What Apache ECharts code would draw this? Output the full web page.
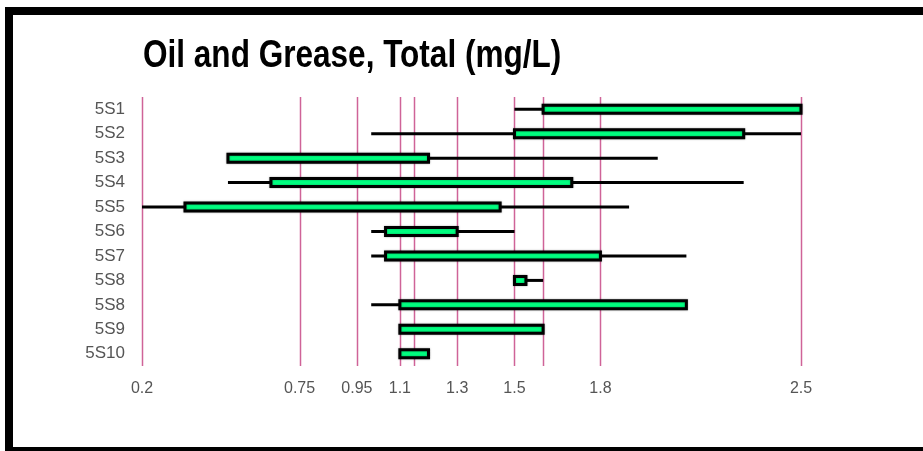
<!DOCTYPE html>
<html>
<head>
<meta charset="utf-8">
<title>Oil and Grease, Total (mg/L)</title>
<script src="https://cdn.jsdelivr.net/npm/echarts@6/dist/echarts.min.js"></script>
<style>
  html, body { margin: 0; padding: 0; background: #fff; }
  #chart { width: 923px; height: 451px; }
</style>
</head>
<body>
<div id="chart"></div>
<script>
// Sampling stations, top to bottom
const categories = ['5S1', '5S2', '5S3', '5S4', '5S5', '5S6', '5S7', '5S8', '5S8', '5S9', '5S10'];
// Range of each station: whisker from min to max, box from low to high
const minVals  = [1.5, 1.0, 0.5, 0.5,  0.2,  1.0,  1.0,  1.5,  1.0, 1.1, 1.1];
const lowVals  = [1.6, 1.5, 0.5, 0.65, 0.35, 1.05, 1.05, 1.5,  1.1, 1.1, 1.1];
const highVals = [2.5, 2.3, 1.2, 1.7,  1.45, 1.3,  1.8,  1.54, 2.1, 1.6, 1.2];
const maxVals  = [2.5, 2.5, 2.0, 2.3,  1.9,  1.5,  2.1,  1.6,  2.1, 1.6, 1.2];
// Reference lines and labelled ticks on the concentration axis
const gridValues = [0.2, 0.75, 0.95, 1.1, 1.15, 1.3, 1.5, 1.6, 1.8, 2.5];
const xTickLabels = [0.2, 0.75, 0.95, 1.1, 1.3, 1.5, 1.8, 2.5];

const SANS = "'Liberation Sans', Arial, sans-serif";

const rangeData = categories.map((c, i) => [i, minVals[i], lowVals[i], highVals[i], maxVals[i]]);
const lineData = gridValues.map(v => [v, 0]);

function renderRange(params, api) {
  const row = api.value(0);
  const pMin = api.coord([api.value(1), row]);
  const pLow = api.coord([api.value(2), row]);
  const pHigh = api.coord([api.value(3), row]);
  const pMax = api.coord([api.value(4), row]);
  const h = 8;
  return {
    type: 'group',
    children: [
      {
        type: 'line',
        shape: { x1: pMin[0], y1: pMin[1], x2: pMax[0], y2: pMax[1] },
        style: { stroke: '#000', lineWidth: 3 }
      },
      {
        type: 'rect',
        shape: { x: pLow[0], y: pLow[1] - h / 2, width: pHigh[0] - pLow[0], height: h },
        style: {
          fill: '#00ff80', stroke: '#000', lineWidth: 3,
          shadowColor: 'rgba(0,0,0,0.35)', shadowBlur: 2
        }
      }
    ]
  };
}

function renderGridLine(params, api) {
  const cs = params.coordSys;
  const x = Math.round(api.coord([api.value(0), 0])[0]) + 0.5;
  return {
    type: 'line',
    shape: { x1: x, y1: cs.y, x2: x, y2: cs.y + cs.height },
    style: { stroke: '#cf6398', lineWidth: 1.5 }
  };
}

const chart = echarts.init(document.getElementById('chart'), null, { renderer: 'canvas' });
chart.setOption({
  backgroundColor: '#fff',
  animation: false,
  graphic: [
    {
      // condensed heading: regular face squeezed horizontally
      type: 'text',
      x: 143,
      y: 38,
      scaleX: 0.83,
      style: {
        text: 'Oil and Grease, Total (mg/L)',
        font: "bold 38px 'Liberation Sans', Arial, sans-serif",
        fill: '#000',
        verticalAlign: 'top',
        align: 'left'
      }
    },
    {
      type: 'rect',
      z: 100,
      shape: { x: 9, y: 11, width: 940, height: 440 },
      style: { fill: 'none', stroke: '#000', lineWidth: 8 }
    }
  ],
  grid: { left: 142, right: 122, top: 97, bottom: 85 },
  xAxis: {
    type: 'value',
    min: 0.2,
    max: 2.5,
    axisLine: { show: false },
    axisTick: { show: false },
    splitLine: { show: false },
    axisLabel: {
      customValues: xTickLabels,
      margin: 15,
      fontFamily: SANS,
      fontSize: 16,
      color: '#555',
      formatter: v => String(v)
    }
  },
  yAxis: {
    type: 'category',
    inverse: true,
    data: categories,
    axisLine: { show: false },
    axisTick: { show: false },
    splitLine: { show: false },
    axisLabel: { interval: 0, margin: 17, fontFamily: SANS, fontSize: 17, color: '#555' }
  },
  series: [
    {
      type: 'custom',
      name: 'grid lines',
      z: 1,
      silent: true,
      renderItem: renderGridLine,
      encode: { x: 0, y: 1 },
      data: lineData
    },
    {
      type: 'custom',
      name: 'range',
      z: 5,
      renderItem: renderRange,
      encode: { x: [1, 2, 3, 4], y: 0 },
      data: rangeData
    }
  ]
});
</script>
</body>
</html>
